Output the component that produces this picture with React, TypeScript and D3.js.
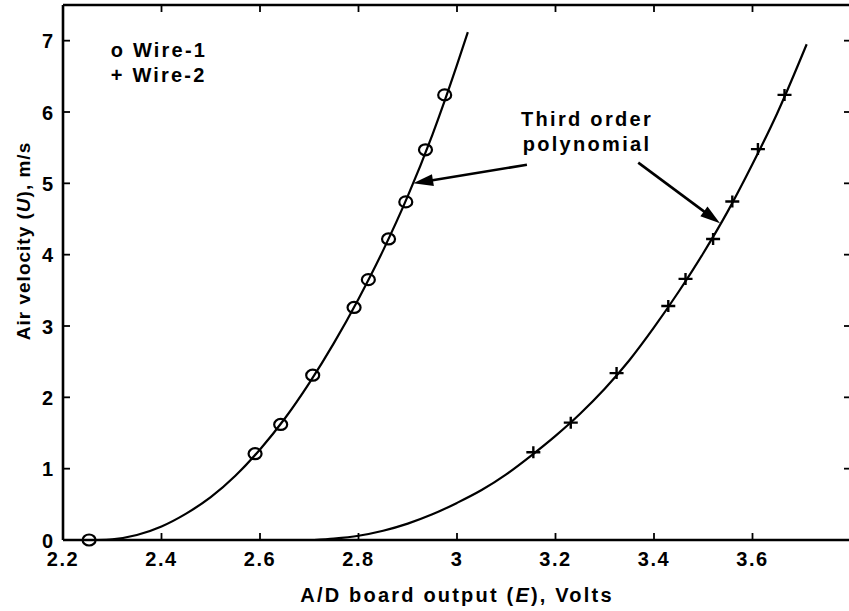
import React from "react";
import * as d3 from "d3";

// ---- data ----
const wire1E = [2.253, 2.59, 2.642, 2.707, 2.791, 2.82, 2.861, 2.896, 2.936, 2.975];
const wire1U = [0, 1.21, 1.62, 2.31, 3.26, 3.65, 4.22, 4.74, 5.47, 6.24];
const wire2E = [3.155, 3.231, 3.324, 3.429, 3.464, 3.52, 3.559, 3.611, 3.665];
const wire2U = [1.23, 1.645, 2.34, 3.28, 3.66, 4.22, 4.745, 5.48, 6.24];

// third-order polynomial fit curves
const fit1E = [2.27, 2.3, 2.35, 2.4, 2.45, 2.5, 2.55, 2.6, 2.65, 2.7, 2.75, 2.8, 2.85, 2.9, 2.95, 3.0, 3.022];
const fit1U = [0, 0.01, 0.07, 0.19, 0.37, 0.6, 0.9, 1.27, 1.7, 2.2, 2.76, 3.38, 4.06, 4.82, 5.68, 6.66, 7.12];
const fit2E = [2.71, 2.75, 2.8, 2.85, 2.9, 2.95, 3.0, 3.05, 3.1, 3.15, 3.2, 3.25, 3.3, 3.35, 3.4, 3.45, 3.5, 3.55, 3.6, 3.65, 3.71];
const fit2U = [0, 0.02, 0.06, 0.13, 0.23, 0.36, 0.52, 0.7, 0.92, 1.18, 1.46, 1.77, 2.12, 2.52, 2.98, 3.48, 4.02, 4.61, 5.27, 5.98, 6.95];

const xTicks = [2.2, 2.4, 2.6, 2.8, 3.0, 3.2, 3.4, 3.6, 3.8];
const xTickLabels = ["2.2", "2.4", "2.6", "2.8", "3", "3.2", "3.4", "3.6", ""];
const yTicks = [0, 1, 2, 3, 4, 5, 6, 7];
const yTickLabels = ["0", "1", "2", "3", "4", "5", "6", "7"];

const legendLabels = ["o Wire-1", "+ Wire-2"];
const annotationLines = ["Third order", "polynomial"];
// arrows: [tailE, tailU, tipE, tipU]
const arrows = [
  [3.142, 5.26, 2.911, 5.0],
  [3.368, 5.29, 3.534, 4.44],
];

const W = 849;
const H = 611;
const left = 63;
const right = 851;
const top = 5;
const bottom = 540;

const FONT = "'Liberation Sans', Arial, Helvetica, sans-serif";

export default function App() {
  const x = d3.scaleLinear().domain([2.2, 3.8]).range([left, right]);
  const y = d3.scaleLinear().domain([0, 7.5]).range([bottom, top]);

  const line = d3
    .line<[number, number]>()
    .x((d) => x(d[0]))
    .y((d) => y(d[1]))
    .curve(d3.curveMonotoneX);

  const fit1 = fit1E.map((e, i) => [e, fit1U[i]] as [number, number]);
  const fit2 = fit2E.map((e, i) => [e, fit2U[i]] as [number, number]);

  const tickLen = 7;
  const axisW = 2.6;

  const arrowHead = (x1: number, y1: number, x2: number, y2: number) => {
    const ang = Math.atan2(y2 - y1, x2 - x1);
    const len = 20;
    const hw = 6;
    const bx = x2 - len * Math.cos(ang);
    const by = y2 - len * Math.sin(ang);
    const px = -Math.sin(ang) * hw;
    const py = Math.cos(ang) * hw;
    return `M${x2},${y2}L${bx + px},${by + py}L${bx - px},${by - py}Z`;
  };

  return (
    <svg
      width={W}
      height={H}
      style={{ position: "absolute", left: 0, top: 0, background: "#fff" }}
      fontFamily={FONT}
      fontWeight="bold"
    >
      <rect x={0} y={0} width={W} height={H} fill="#fff" />

      {/* fitted curves */}
      <path d={line(fit1) || ""} fill="none" stroke="#000" strokeWidth={2.2} />
      <path d={line(fit2) || ""} fill="none" stroke="#000" strokeWidth={2.2} />

      {/* wire-1 circles */}
      {wire1E.map((e, i) => (
        <ellipse
          key={"c" + i}
          cx={x(e)}
          cy={y(wire1U[i])}
          rx={6.5}
          ry={5.5}
          fill="none"
          stroke="#000"
          strokeWidth={2.2}
        />
      ))}
      {/* wire-2 pluses */}
      {wire2E.map((e, i) => {
        const cx = x(e);
        const cy = y(wire2U[i]);
        return (
          <path
            key={"p" + i}
            d={`M${cx - 7},${cy}L${cx + 7},${cy}M${cx},${cy - 6}L${cx},${cy + 6}`}
            stroke="#000"
            strokeWidth={2.4}
          />
        );
      })}

      {/* axes box */}
      <line x1={left} y1={top} x2={right} y2={top} stroke="#000" strokeWidth={axisW} />
      <line x1={left} y1={bottom} x2={right} y2={bottom} stroke="#000" strokeWidth={axisW} />
      <line x1={left} y1={top} x2={left} y2={bottom} stroke="#000" strokeWidth={axisW} />
      <line x1={right} y1={top} x2={right} y2={bottom} stroke="#000" strokeWidth={axisW} />

      {/* x ticks */}
      {xTicks.map((t, i) => (
        <g key={"xt" + i}>
          <line x1={x(t)} x2={x(t)} y1={bottom} y2={bottom - tickLen} stroke="#000" strokeWidth={1.8} />
          <line x1={x(t)} x2={x(t)} y1={top} y2={top + tickLen} stroke="#000" strokeWidth={1.8} />
          {xTickLabels[i] && (
            <text x={x(t)} y={566} textAnchor="middle" fontSize={20} letterSpacing={1.5}>
              {xTickLabels[i]}
            </text>
          )}
        </g>
      ))}

      {/* y ticks */}
      {yTicks.map((t, i) => (
        <g key={"yt" + i}>
          <line x1={left} x2={left + tickLen} y1={y(t)} y2={y(t)} stroke="#000" strokeWidth={1.8} />
          <line x1={right} x2={right - tickLen} y1={y(t)} y2={y(t)} stroke="#000" strokeWidth={1.8} />
          <text x={53} y={y(t) + 7.5} textAnchor="end" fontSize={20}>
            {yTickLabels[i]}
          </text>
        </g>
      ))}

      {/* axis titles */}
      <text x={(left + right) / 2} y={602} textAnchor="middle" fontSize={20} letterSpacing={2.2}>
        A/D board output (<tspan fontStyle="italic">E</tspan>), Volts
      </text>
      <text
        transform={`translate(30,${241}) rotate(-90)`}
        textAnchor="middle"
        fontSize={19}
        letterSpacing={1}
      >
        Air velocity (<tspan fontStyle="italic">U</tspan>), m/s
      </text>

      {/* legend */}
      {legendLabels.map((l, i) => (
        <text key={"lg" + i} x={x(2.297)} y={y(6.77 - i * 0.35)} fontSize={20} letterSpacing={2.2}>
          {l}
        </text>
      ))}

      {/* annotation */}
      {annotationLines.map((l, i) => (
        <text
          key={"an" + i}
          x={x(3.264)}
          y={y(5.8 - i * 0.35)}
          textAnchor="middle"
          fontSize={20}
          letterSpacing={2.3}
        >
          {l}
        </text>
      ))}
      {arrows.map((a, i) => {
        const x1 = x(a[0]);
        const y1 = y(a[1]);
        const x2 = x(a[2]);
        const y2 = y(a[3]);
        const ang = Math.atan2(y2 - y1, x2 - x1);
        return (
          <g key={"ar" + i}>
            <line
              x1={x1}
              y1={y1}
              x2={x2 - 15 * Math.cos(ang)}
              y2={y2 - 15 * Math.sin(ang)}
              stroke="#000"
              strokeWidth={2.6}
            />
            <path d={arrowHead(x1, y1, x2, y2)} fill="#000" />
          </g>
        );
      })}
    </svg>
  );
}
